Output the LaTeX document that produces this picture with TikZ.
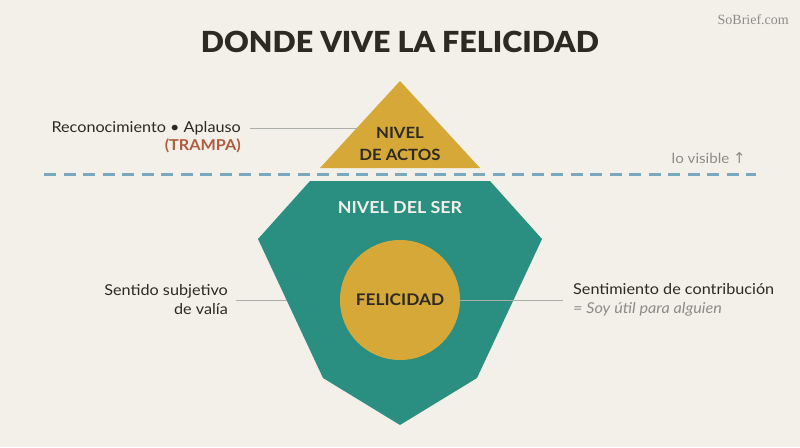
\documentclass[tikz,border=0pt]{standalone}
\usepackage{fontspec}
\setmainfont{Lato}[FakeStretch=1.08]
\newfontfamily\heavyfont{Lato Black}[FakeStretch=1.05]
\newfontfamily\brandfont{Liberation Serif}
\newfontfamily\arrowfont{DejaVu Sans}
\usetikzlibrary{positioning}
\definecolor{bgCream}{RGB}{242, 240, 232}
\definecolor{serTeal}{RGB}{42, 143, 128}
\definecolor{actGold}{RGB}{214, 168, 56}
\definecolor{inkDark}{RGB}{45, 42, 34}
\definecolor{trapRust}{RGB}{176, 92, 62}
\definecolor{waterBlue}{RGB}{122, 168, 190}
\definecolor{noteGray}{RGB}{140, 140, 134}
\definecolor{leadGray}{RGB}{172, 174, 168}

\begin{document}
\begin{tikzpicture}[x=1pt, y=-1pt,
    tag/.style={font=\fontsize{15}{19}\selectfont, text=inkDark, inner sep=0pt},
    level/.style={font=\bfseries\fontsize{15.5}{22}\selectfont, inner sep=0pt, align=center},
    leader/.style={draw=leadGray, line width=1pt}]
      \fill[bgCream] (0,0) rectangle (800,447);
      \useasboundingbox (0,0) rectangle (800,447);
      % header
      \node[font=\heavyfont\fontsize{29}{32}\selectfont, text=inkDark] (title) at (400,42) {DONDE VIVE LA FELICIDAD};
      \node[font=\brandfont\fontsize{14}{16}\selectfont, text=noteGray, anchor=east, inner sep=0pt] (brand) at (789,20) {SoBrief.com};
      % tip above the water
      \fill[actGold] (400,81) -- (480,168) -- (320,168) -- cycle;
      \coordinate (actEdge) at (358,127);
      \node[level, text=inkDark] (actos) at (400,144) {NIVEL\\DE ACTOS};
      % water line
      \draw[waterBlue, line width=3pt, dash pattern=on 12pt off 7.5pt] (44,174) -- (756,174);
      \node[tag, font=\fontsize{14}{17}\selectfont, text=noteGray, anchor=east] (visible) at (746,158) {lo visible {\arrowfont\fontsize{15}{17}\selectfont ↑}};
      % below the water
      \fill[serTeal] (310,181) -- (490,181) -- (542,239) -- (477,378) -- (400,425)
        -- (323,378) -- (258,239) -- cycle;
      \coordinate (serEdge) at (286.5,300);
      \node[level, text=bgCream, font=\bfseries\fontsize{16.5}{20}\selectfont] (ser) at (400,208) {NIVEL DEL SER};
      \node[circle, fill=actGold, minimum size=120pt, inner sep=0pt, text=inkDark,
        font=\bfseries\fontsize{16}{20}\selectfont] (feli) at (400,300) {FELICIDAD};
      % labels left
      \node[tag, anchor=east] (reco) at (241,128) {Reconocimiento • Aplauso};
      \node[tag, anchor=east, text=trapRust, font=\bfseries\fontsize{15}{19}\selectfont] (trampa) at (241,146) {(TRAMPA)};
      \node[tag, anchor=east, align=right] (valia) at (228,300) {Sentido subjetivo\\de valía};
      % labels right
      \node[tag, anchor=west, align=left] (contrib) at (573,300) {Sentimiento de contribución\\{\color{noteGray}\itshape = Soy útil para alguien}};
      % leaders
      \draw[leader] ([xshift=9pt]reco.east) -- (reco.east -| actEdge);
      \draw[leader] ([xshift=8pt]valia.east) -- (serEdge);
      \draw[leader] (feli.east) -- ([xshift=-10pt]contrib.west);
\end{tikzpicture}
\end{document}
